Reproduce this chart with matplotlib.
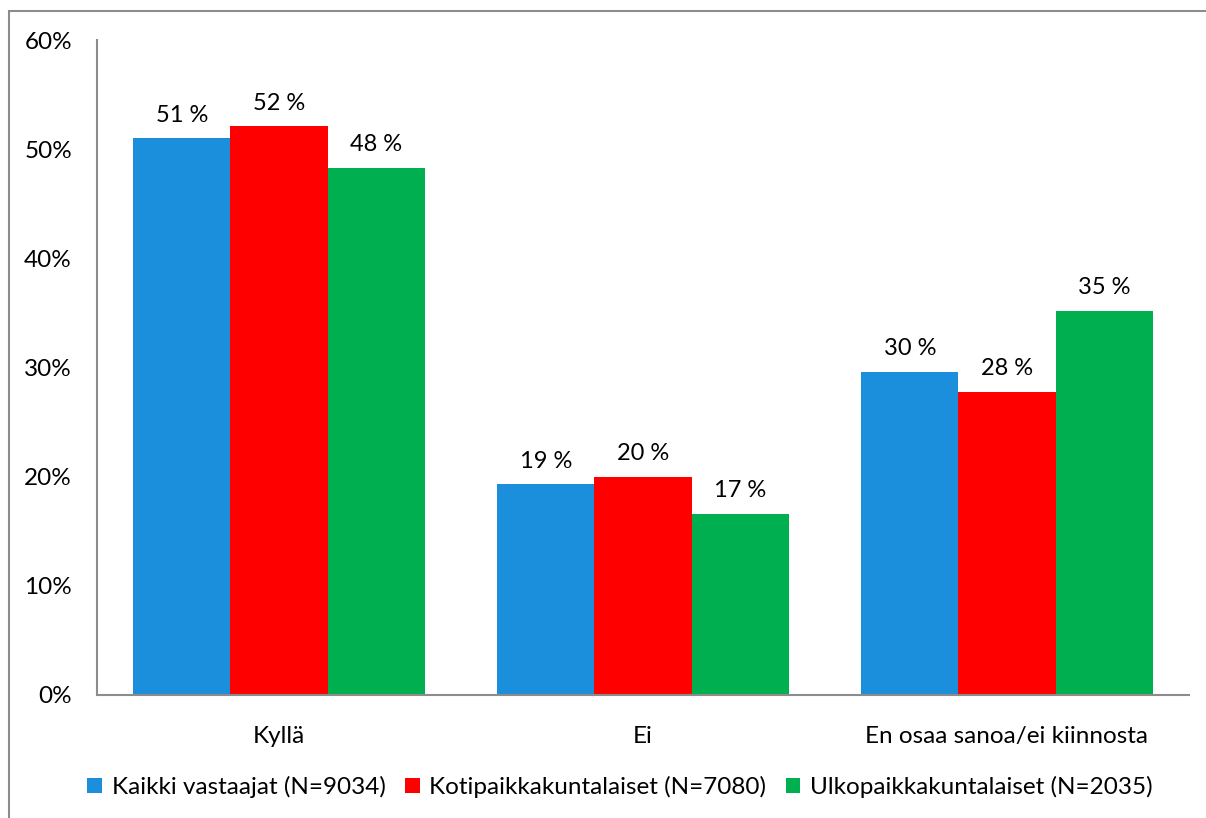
import matplotlib.pyplot as plt
import matplotlib.patches as mpatches
import numpy as np

# Data
categories = ['Kyllä', 'Ei', 'En osaa sanoa/ei kiinnosta']
series_names = ['Kaikki vastaajat (N=9034)',
                'Kotipaikkakuntalaiset (N=7080)',
                'Ulkopaikkakuntalaiset (N=2035)']
kaikki = [51.0, 19.3, 29.6]
koti = [52.1, 20.0, 27.8]
ulko = [48.3, 16.6, 35.2]
colors = ['#1B8FDB', '#FF0000', '#00B050']

plt.rcParams['font.family'] = ['Lato', 'DejaVu Sans']

fig = plt.figure(figsize=(12.06, 8.18), dpi=100)
ax = fig.add_axes([0.0804, 0.1504, 0.9055, 0.8007])

# outer chart border (clipped at right/bottom like the reference)
fig.patches.append(mpatches.Rectangle((9 / 1206, -0.05), 1.2, 1 - 11 / 818 + 0.05,
                                      transform=fig.transFigure, fill=False,
                                      edgecolor='#8c8c8c', linewidth=1.5))

x = np.arange(len(categories))
width = 0.8 / 3
for i, (vals, name, col) in enumerate(zip([kaikki, koti, ulko], series_names, colors)):
    pos = x + (i - 1) * width
    bars = ax.bar(pos, vals, width, color=col, label=name)
    for b, v in zip(bars, vals):
        ax.annotate(f'{round(v)} %', (b.get_x() + b.get_width() / 2, v),
                    xytext=(0, 9), textcoords='offset points',
                    ha='center', va='bottom', fontsize=17)

ax.set_xlim(-0.5, 2.5)
ax.set_ylim(0, 60)
ax.set_yticks(range(0, 61, 10))
ax.set_yticklabels([f'{t}%' for t in range(0, 61, 10)])
ax.set_xticks(x)
ax.set_xticklabels(categories)
ax.tick_params(axis='both', length=0, labelsize=17.5)
ax.tick_params(axis='y', pad=18)
ax.tick_params(axis='x', pad=22)
for s in ['top', 'right']:
    ax.spines[s].set_visible(False)
for s in ['left', 'bottom']:
    ax.spines[s].set_color('#8c8c8c')
    ax.spines[s].set_linewidth(1.5)

ax.legend(loc='center', bbox_to_anchor=(620 / 1206, 1 - 787 / 818),
          bbox_transform=fig.transFigure, ncol=3, frameon=False,
          fontsize=17.5, handlelength=0.6, handleheight=0.6,
          handletextpad=0.4, columnspacing=0.8)

fig.savefig('out.png', dpi=100)
